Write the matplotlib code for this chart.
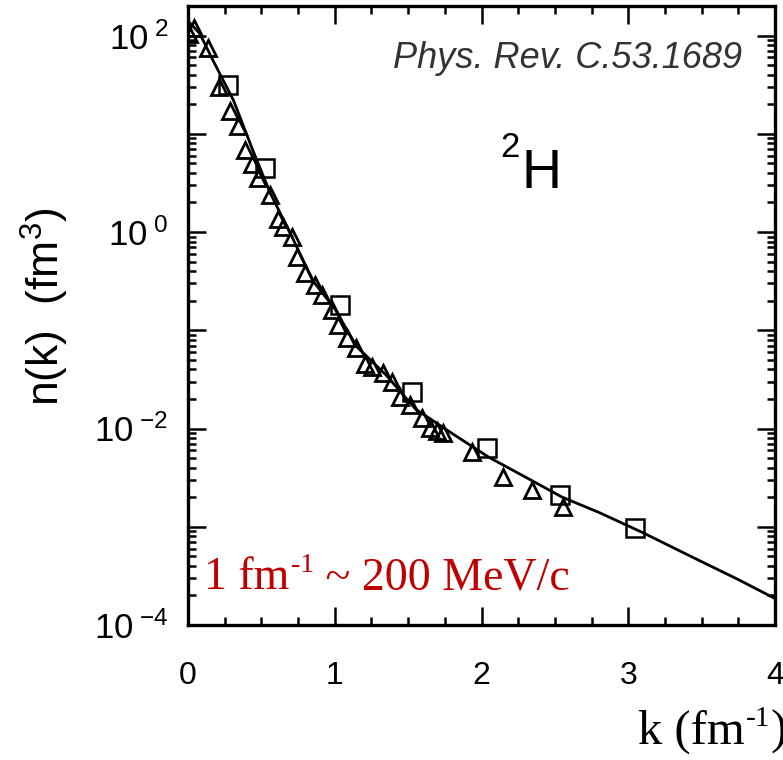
import math
import matplotlib
matplotlib.use("Agg")
import matplotlib.pyplot as plt
from matplotlib.ticker import LogLocator, MultipleLocator, FixedLocator, FuncFormatter

plt.rcParams["font.family"] = ["Liberation Sans", "DejaVu Sans"]
plt.rcParams["mathtext.fontset"] = "custom"
plt.rcParams["mathtext.rm"] = "Liberation Sans"
plt.rcParams["mathtext.it"] = "Liberation Sans:italic"
plt.rcParams["mathtext.bf"] = "Liberation Sans:bold"
plt.rcParams["xtick.labelsize"] = 23
plt.rcParams["ytick.labelsize"] = 25

# theory curve
k_curve = [0.0, 0.08, 0.17, 0.31, 0.44, 0.56, 0.70, 0.85, 1.00, 1.15, 1.35,
           1.55, 1.80, 2.05, 2.30, 2.55, 2.80, 3.10, 3.45, 3.75, 4.0]
n_curve = [141, 105, 56, 21.9, 6.9, 2.5, 0.95, 0.32, 0.166, 0.068, 0.035,
           0.0158, 0.0089, 0.0051, 0.0032, 0.0020, 0.0014, 8.7e-4, 4.8e-4,
           2.9e-4, 1.86e-4]

# data, triangles
k_tri = [0.007, 0.041, 0.136, 0.211, 0.286, 0.341, 0.389, 0.436, 0.477, 0.559,
         0.613, 0.647, 0.709, 0.743, 0.797, 0.865, 0.913, 0.981, 1.022, 1.083,
         1.145, 1.206, 1.254, 1.329, 1.390, 1.445, 1.513, 1.595, 1.649, 1.697,
         1.738, 1.935, 2.146, 2.344, 2.555]
n_tri = [103.5, 119, 74.6, 29.9, 17.0, 12.0, 6.84, 4.92, 3.55, 2.38,
         1.36, 1.12, 0.889, 0.557, 0.383, 0.289, 0.229, 0.161, 0.113, 0.0834,
         0.0659, 0.0453, 0.0423, 0.0367, 0.0297, 0.0209, 0.0173, 0.0128, 0.0101,
         0.00944, 0.0090, 0.00577, 0.00321, 0.00237, 0.00159]

# data, squares
k_sq = [0.273, 0.525, 1.036, 1.526, 2.037, 2.535, 3.046]
n_sq = [31.3, 4.48, 0.181, 0.0235, 0.00633, 0.0021, 9.7e-4]

x_ticks = [0, 1, 2, 3, 4]

SERIF = ["Liberation Serif", "DejaVu Serif"]

fig = plt.figure(figsize=(7.83, 7.6), dpi=100)
ax = fig.add_axes([188 / 783, 1 - 625 / 760, (775 - 188) / 783, (625 - 6) / 760])

ax.plot(k_curve, n_curve, color="black", lw=2.0, zorder=2)
ax.plot(k_tri, n_tri, ls="none", marker="^", ms=12, mfc="none", mec="black",
        mew=2.0, zorder=3)
ax.plot(k_sq, n_sq, ls="none", marker="s", ms=12.5, mfc="none", mec="black",
        mew=1.8, zorder=3)

ax.set_yscale("log")
ax.set_xlim(0, 4)
ax.set_ylim(1e-4, 200)

ax.xaxis.set_major_locator(FixedLocator(x_ticks))
ax.xaxis.set_minor_locator(MultipleLocator(0.25))
ax.yaxis.set_major_locator(LogLocator(base=10, numticks=20))
ax.yaxis.set_minor_locator(LogLocator(base=10, subs=range(2, 10), numticks=20))


def ylab(v, pos):
    e = int(round(math.log10(v)))
    if e % 2:
        return ""
    return r"$\mathdefault{10^{\ {%d}}}$" % e


ax.yaxis.set_major_formatter(FuncFormatter(ylab))
ax.xaxis.set_major_formatter(FuncFormatter(lambda v, p: "%d" % v))

for s in ax.spines.values():
    s.set_linewidth(2.4)
ax.tick_params(which="both", direction="in", top=True, right=True, width=1.8)
ax.tick_params(which="major", length=13)
ax.tick_params(which="minor", length=6)
ax.tick_params(axis="y", which="major", pad=14)
ax.tick_params(axis="x", which="major", pad=26)

fig.text(45 / 783, 1 - 307 / 760, r"n(k)  (fm$^3$)", rotation=90, ha="center",
         va="center", fontsize=32)

fig.text(742 / 783, 1 - 68 / 760, "Phys. Rev. C.53.1689", ha="right",
         va="baseline", fontsize=26, style="italic", color="#333333")
fig.text(500 / 783, 1 - 157 / 760, "2", ha="left", va="baseline", fontsize=25)
fig.text(521 / 783, 1 - 188 / 760, "H", ha="left", va="baseline", fontsize=40)

# red note: main text, small raised "-1", then the rest
red = "#C00000"
r1 = fig.text(204 / 783, 1 - 589 / 760, "1 fm", ha="left", va="baseline",
              fontsize=33, color=red, family=SERIF)
r2 = ax.annotate("-1", xy=(1, 0), xycoords=r1, xytext=(1, 15),
                 textcoords="offset points", ha="left", va="bottom",
                 fontsize=20, color=red, family=SERIF, annotation_clip=False)
ax.annotate(" ~ 200 MeV/c", xy=(1, 0), xycoords=(r2, r1), xytext=(0, 0),
            textcoords="offset points", ha="left", va="bottom",
            fontsize=33, color=red, family=SERIF, annotation_clip=False)

# x axis title, same build
k1 = fig.text(638 / 783, 1 - 744 / 760, "k (fm", ha="left", va="baseline",
              fontsize=35, family=SERIF)
k2 = ax.annotate("-1", xy=(1, 0), xycoords=k1, xytext=(1, 16),
                 textcoords="offset points", ha="left", va="bottom",
                 fontsize=21, family=SERIF, annotation_clip=False)
ax.annotate(")", xy=(1, 0), xycoords=(k2, k1), xytext=(0, 0),
            textcoords="offset points", ha="left", va="bottom",
            fontsize=35, family=SERIF, annotation_clip=False)

fig.savefig("out.png", dpi=100)
